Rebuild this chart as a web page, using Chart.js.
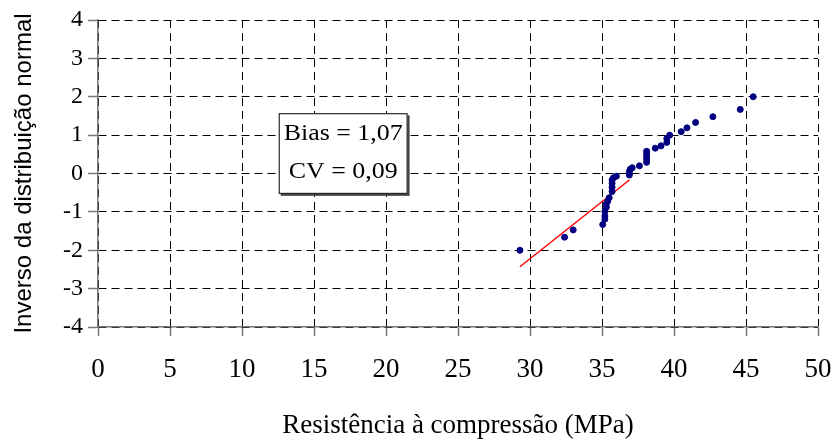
<!DOCTYPE html>
<html>
<head>
<meta charset="utf-8">
<script src="https://cdn.jsdelivr.net/npm/chart.js@4"></script>
<style>
  body { margin: 0; background: #fff; }
</style>
</head>
<body>
<canvas id="chart" width="833" height="444"></canvas>
<script>
// pontos observados (MPa, inverso da normal)
const resistencia = [29.3, 32.4, 33.0, 35.05, 35.2, 35.2, 35.2, 35.3, 35.3, 35.4, 35.5,
    35.7, 35.7, 35.7, 35.7, 35.8, 36.0, 36.9, 36.9, 36.96, 37.1, 37.6,
    38.1, 38.1, 38.1, 38.1, 38.1, 38.7, 39.1, 39.5, 39.5, 39.7,
    40.5, 40.9, 41.5, 42.7, 44.6, 45.5];
const inversoNormal = [-2.00, -1.66, -1.47, -1.33, -1.19, -1.11, -0.99, -0.88, -0.79, -0.72, -0.63,
    -0.47, -0.36, -0.26, -0.17, -0.11, -0.07, -0.04, 0.05, 0.11, 0.15, 0.20,
    0.29, 0.37, 0.44, 0.51, 0.58, 0.66, 0.72, 0.81, 0.91, 1.00,
    1.09, 1.19, 1.33, 1.48, 1.67, 2.00];

// reta teórica
const retaX = [29.3, 36.9];
const retaY = [-2.43, -0.17];

const xTicks = [0, 5, 10, 15, 20, 25, 30, 35, 40, 45, 50];
const yTicks = [-4, -3, -2, -1, 0, 1, 2, 3, 4];
const boxLines = ['Bias = 1,07', 'CV = 0,09'];

const serif = '"Liberation Serif", "Times New Roman", serif';

const textBox = {
    id: 'textBox',
    afterDraw(chart) {
        const ctx = chart.ctx;
        const x = chart.scales.x, y = chart.scales.y;
        const left = x.getPixelForValue(12.55);
        const right = x.getPixelForValue(21.5);
        const top = y.getPixelForValue(1.57);
        const bottom = y.getPixelForValue(-0.53);
        ctx.save();
        ctx.fillStyle = '#444';
        ctx.fillRect(left + 2, top + 2, right - left, bottom - top);
        ctx.fillStyle = '#fff';
        ctx.fillRect(left, top, right - left, bottom - top);
        ctx.strokeStyle = '#000';
        ctx.lineWidth = 1;
        ctx.strokeRect(left + 0.5, top + 0.5, right - left - 1, bottom - top - 1);
        ctx.fillStyle = '#000';
        ctx.font = '24px ' + serif;
        ctx.textAlign = 'center';
        ctx.textBaseline = 'middle';
        const cx = (left + right) / 2;
        const ys = [top + (bottom - top) * 0.25, top + (bottom - top) * 0.73];
        boxLines.forEach((t, i) => {
            ctx.save();
            ctx.translate(cx, ys[i]);
            ctx.scale(1.08, 1);
            ctx.fillText(t, 0, 0);
            ctx.restore();
        });
        ctx.restore();
    }
};

const ctx = document.getElementById('chart').getContext('2d');
const chart = new Chart(ctx, {
    type: 'scatter',
    data: {
        datasets: [{
            data: resistencia.map((v, i) => ({x: v, y: inversoNormal[i]})),
            backgroundColor: '#000080',
            borderColor: '#000080',
            pointRadius: 3,
            pointHoverRadius: 3
        }, {
            data: retaX.map((v, i) => ({x: v, y: retaY[i]})),
            showLine: true,
            borderColor: '#ff0000',
            borderWidth: 1.5,
            pointRadius: 0
        }]
    },
    options: {
        responsive: false,
        animation: false,
        layout: { padding: { top: 20, right: 3, left: 0, bottom: 0 } },
        plugins: {
            legend: { display: false },
            tooltip: { enabled: false }
        },
        scales: {
            x: {
                type: 'linear',
                min: 0,
                max: 50,
                afterBuildTicks: s => { s.ticks = xTicks.map(v => ({value: v})); },
                afterFit: s => { s.height = 117; s.paddingRight = 15; s.paddingLeft = 0; },
                ticks: {
                    color: '#000',
                    padding: 18,
                    font: { family: serif, size: 27 }
                },
                grid: {
                    color: '#000',
                    lineWidth: 1,
                    tickLength: 9,
                    tickColor: '#777',
                    tickWidth: 1.5
                },
                border: { color: '#777', width: 1.5, dash: [8, 5] },
                title: {
                    display: true,
                    text: 'Resistência à compressão (MPa)',
                    color: '#000',
                    font: { family: serif, size: 27 },
                    padding: { top: 0, bottom: 2 }
                }
            },
            y: {
                type: 'linear',
                min: -4,
                max: 4,
                afterBuildTicks: s => { s.ticks = yTicks.map(v => ({value: v})); },
                afterFit: s => { s.width = 98; },
                ticks: {
                    color: '#000',
                    padding: 5,
                    font: { family: serif, size: 24 }
                },
                grid: {
                    color: '#000',
                    lineWidth: 1,
                    tickLength: 10,
                    tickColor: '#777',
                    tickWidth: 1.5
                },
                border: { color: '#777', width: 1.5, dash: [8, 5] },
                title: {
                    display: true,
                    text: 'Inverso da distribuição normal',
                    color: '#000',
                    font: { family: '"Liberation Sans", Arial, sans-serif', size: 24 },
                    padding: { top: 10, bottom: 0 }
                }
            }
        }
    },
    plugins: [textBox]
});
</script>
</body>
</html>
